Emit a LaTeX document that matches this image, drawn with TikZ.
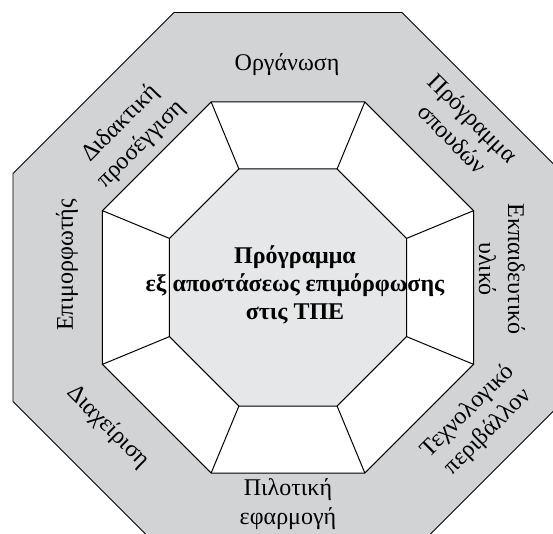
\documentclass[tikz,border=0pt]{standalone}
\usepackage{fontspec}
\setmainfont{Liberation Serif}
\usetikzlibrary{math}
\definecolor{ringgray}{RGB}{209,211,212}
\definecolor{coregray}{RGB}{230,231,232}
\tikzset{
  ringlabel/.style={align=center, inner sep=0pt, font=\fontsize{24}{29}\selectfont},
  corelabel/.style={ringlabel, font=\fontsize{24}{28}\selectfont\bfseries},
  octline/.style={draw=black, line width=1pt, line join=miter},
}
\begin{document}
\begin{tikzpicture}[x=1pt,y=1pt]
\tikzmath{
\Ro=297.7;
\Rm=200.8;
\Ri=128.3;
}
\useasboundingbox (-288,-246.5) rectangle (265,287.5);
\fill[white] (-288,-246.5) rectangle (265,287.5);
\clip (-288,-246.5) rectangle (265,287.5);

\foreach \i in {0,...,7}{
  \coordinate (out\i) at ({22.5+45*\i}:\Ro);
  \coordinate (mid\i) at ({22.5+45*\i}:\Rm);
  \coordinate (in\i) at ({22.5+45*\i}:\Ri);
}

% three octagons
\filldraw[octline, line width=0.8pt, fill=ringgray] (out0) \foreach \i in {1,...,7}{-- (out\i)} -- cycle;
\filldraw[octline, fill=white] (mid0) \foreach \i in {1,...,7}{-- (mid\i)} -- cycle;
\filldraw[octline, fill=coregray] (in0) \foreach \i in {1,...,7}{-- (in\i)} -- cycle;
\foreach \i in {0,...,7}{
  \draw[octline] (mid\i) -- (in\i);
}

\node[ringlabel] (organosi) at (-1,223) {Οργάνωση};
\node[ringlabel, rotate=-45] (programma) at (175,159.5) {Πρόγραμμα\\σπουδών};
\node[ringlabel, rotate=-90] (ekpaideutiko) at (214,18.5) {Εκπαιδευτικό\\υλικό};
\node[ringlabel, rotate=45] (perivallon) at (190,-134) {Τεχνολογικό\\περιβάλλον};
\node[ringlabel] (pilotiki) at (0,-216.5) {Πιλοτική\\εφαρμογή};
\node[ringlabel, rotate=-45] (diaxeirisi) at (-180,-139.5) {Διαχείριση};
\node[ringlabel, rotate=90] (epimorfotis) at (-221,22.5) {Επιμορφωτής};
\node[ringlabel, rotate=45] (didaktiki) at (-157,153.5) {Διδακτική\\προσέγγιση};
\node[corelabel] (kentro) at (7,2.5) {Πρόγραμμα\\εξ αποστάσεως επιμόρφωσης\\στις ΤΠΕ};
\end{tikzpicture}
\end{document}
